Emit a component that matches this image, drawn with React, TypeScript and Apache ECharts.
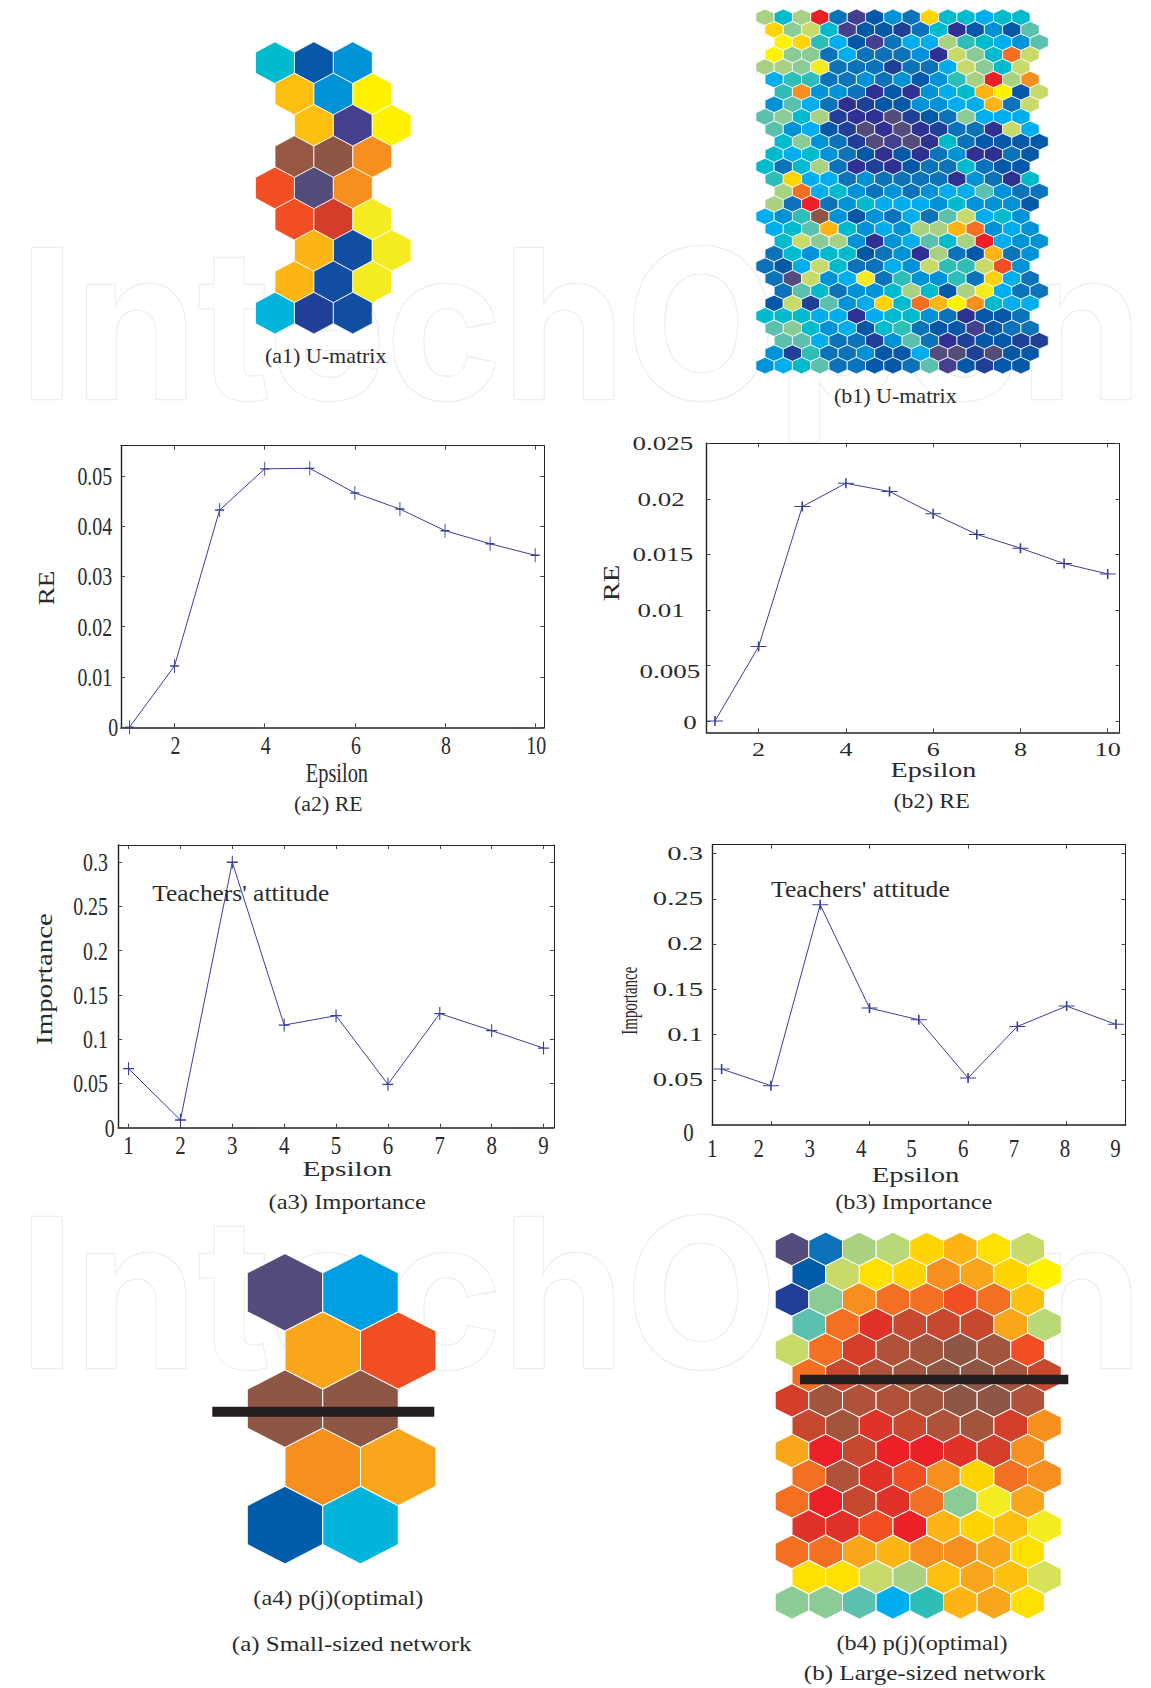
import React, { useEffect, useRef } from "react";
import * as echarts from "echarts";

// ---------- colour scale of the maps (codes used by the cell rows below)
const PALETTE: Record<string, string> = {
  p: "#443F8E", d: "#2E3192", n: "#1F4096", b: "#0557A8", x: "#005BAA", u: "#114EA1", m: "#0C72BA",
  c: "#0092D6", w: "#009FE3", s: "#00AEEF", v: "#00B4DC", t: "#00BACD", g: "#2FBDB8", h: "#5CC0AE",
  j: "#8ACB96", k: "#A8D182", K: "#B9D878", l: "#C8DA6A", L: "#D7E15A", y: "#F4EC21", Y: "#FFF200",
  i: "#FFE000", o: "#FFD400", P: "#FDC010", O: "#FDB515", a: "#FAA61B", f: "#F78F1E", r: "#F36F21",
  F: "#F14E23", R: "#EE2027", T: "#E1322A", D: "#D43D2A", C: "#C7482F", E: "#B0523A", e: "#A3543D",
  A: "#985743", B: "#8D5645", G: "#544C7A",
};

// ---------- hexagon maps
const a1Cells = ["t b c", "P c Y", "P p Y", "A B f", "F G f", "F D y", "O u y", "O u y", "v n u"];
const a1Shift = [0, 1, 2, 1, 0, 1, 2, 1, 0];

const b1Cells = [
  "k t k R m p b c m o t t s t t",
  "o j l t p b b n m t d b c b h",
  "Y o g s b p m s s k g t s c h",
  "Y j j m s m m m c d l j t r l",
  "k k j y m m m n m m s l j t l",
  "s g g m m c m c b c g k R k f",
  "g f c c m d b d c s t O Y b l",
  "c h s m d n b b c c s s O m l",
  "h j t k n d d G n b m j s s s",
  "h c s b n G d G d n m m d l s",
  "t j c m n G p G d t m b b b b",
  "t s t c m b d b d m c d d m b",
  "t m t k m d n d b m m t m b b",
  "g o s s m c m m m m d c m d t",
  "k r s t c m c m c s s h c m m",
  "k m R m c t s s s c t c c c b",
  "s c g B c b c m s m h l s t c",
  "s t h O t c s c k k O r c s c",
  "t l j k c d c s h t k R s c c",
  "m t c t t b m c d k m b O m c",
  "m b s l t m m s c l g g l F c",
  "m G l c s y m g c c g m o s m",
  "m h t m c c t k t b k y s m m",
  "b l n h c s o t r O Y f t s s",
  "t t t s s d s t t c m d b b m",
  "h j t c s b t g m b b p b m m",
  "h h s m m n c h m d n b b n n",
  "c n g m m c b b s G G n G b b",
  "c s t h m m b b m h p b n b b",
];
const b1Shift = [0, 1, 2, 1, 0, 1, 2, 1, 0, 1, 2, 1, 0, 1, 2, 1, 0, 1, 2, 1, 0, 1, 2, 1, 0, 1, 2, 1, 0];

const a4Cells = ["G w", "a F", "B B", "f a", "x v"];
const a4Shift = [0, 1, 0, 1, 0];

const b4Cells = [
  "G m k K o O i l",
  "x l i o f a o Y",
  "n j f r r F r P",
  "h r T C C C a K",
  "l r D E e B e F",
  "r C E e B B e C",
  "D e E E e B B E",
  "C e T C E e D f",
  "a R C R R T D f",
  "r E T F f o r f",
  "r R C T r j y a",
  "T T F R O o P y",
  "r r a O f f a i",
  "i i l k P a P L",
  "j j h s g O a i",
];
const b4Shift = [0, 1, 0, 1, 0, 1, 0, 1, 0, 1, 0, 1, 0, 1, 0];

// ---------- line charts
const a2Epsilon = [1, 2, 3, 4, 5, 6, 7, 8, 9, 10];
const a2RE = [0, 0.0122, 0.0432, 0.0514, 0.0515, 0.0466, 0.0434, 0.0391, 0.0365, 0.0342];
const a2XTicks = [2, 4, 6, 8, 10];
const a2YTicks = [0, 0.01, 0.02, 0.03, 0.04, 0.05];
const a2YLabels = ["0", "0.01", "0.02", "0.03", "0.04", "0.05"];

const b2Epsilon = [1, 2, 3, 4, 5, 6, 7, 8, 9, 10];
const b2RE = [0, 0.0067, 0.0193, 0.0214, 0.02066, 0.01865, 0.0168, 0.01556, 0.01417, 0.01324];
const b2XTicks = [2, 4, 6, 8, 10];
const b2YTicks = [0, 0.005, 0.01, 0.015, 0.02, 0.025];
const b2YLabels = ["0", "0.005", "0.01", "0.015", "0.02", "0.025"];

const a3Epsilon = [1, 2, 3, 4, 5, 6, 7, 8, 9];
const a3Importance = [0.0667, 0.0087, 0.3, 0.116, 0.1266, 0.049, 0.129, 0.1097, 0.09];
const a3XTicks = [1, 2, 3, 4, 5, 6, 7, 8, 9];
const a3YTicks = [0, 0.05, 0.1, 0.15, 0.2, 0.25, 0.3];
const a3YLabels = ["0", "0.05", "0.1", "0.15", "0.2", "0.25", "0.3"];

const b3Epsilon = [1, 2, 3, 4, 5, 6, 7, 8, 9];
const b3Importance = [0.0619, 0.0435, 0.2436, 0.1293, 0.1164, 0.052, 0.109, 0.1315, 0.1113];
const b3XTicks = [2, 4, 6, 8];
const b3XLabelValues = [1, 2, 3, 4, 5, 6, 7, 8, 9];
const b3YTicks = [0.05, 0.1, 0.15, 0.2, 0.25, 0.3];
const b3YLabels = ["0.05", "0.1", "0.15", "0.2", "0.25", "0.3"];

// ---------- layout and helpers
const SERIF = "Liberation Serif";
const INK = "#2b2b2b";
const LINE = "#3A3E9B";
const HEX = "path://M50,0 L100,25 L100,75 L50,100 L0,75 L0,25 Z";
const PLUS = "path://M0,45 H45 V0 H55 V45 H100 V55 H55 V100 H45 V55 H0 Z";

const grids: any[] = [];
const xAxes: any[] = [];
const yAxes: any[] = [];
const series: any[] = [];

function addHexMap(rows: string[], shift: number[], x0: number, y0: number, half: number, dy: number, border: number) {
  const grid = grids.length;
  const cols = rows[0].split(" ").length;
  const maxX = Math.max(...shift) + 2 * (cols - 1);
  grids.push({ left: x0, top: y0, width: maxX * half, height: (rows.length - 1) * dy });
  const xi = xAxes.length;
  const yi = yAxes.length;
  xAxes.push({ type: "value", gridIndex: grid, show: false, min: 0, max: maxX });
  yAxes.push({ type: "value", gridIndex: grid, show: false, min: 0, max: rows.length - 1, inverse: true });
  series.push({
    type: "scatter",
    xAxisIndex: xi,
    yAxisIndex: yi,
    symbol: HEX,
    symbolSize: [half * 2, (dy * 4) / 3],
    silent: true,
    itemStyle: { borderColor: "#ffffff", borderWidth: border, opacity: 1 },
    data: rows.flatMap((row, r) =>
      row.split(" ").map((code, c) => ({
        value: [shift[r] + 2 * c, r],
        itemStyle: { color: PALETTE[code] },
      })),
    ),
  });
}

type Lab = { text: string; at: number[]; dx?: number; dy?: number };
function labelSeries(xi: number, yi: number, labs: Lab[], size: number, sx: number, align: string) {
  series.push({
    type: "custom",
    xAxisIndex: xi,
    yAxisIndex: yi,
    silent: true,
    clip: false,
    encode: { x: 0, y: 1 },
    data: labs.map((l) => l.at),
    renderItem: (p: any, api: any) => {
      const l = labs[p.dataIndex];
      const pt = api.coord(l.at);
      return {
        type: "text",
        x: pt[0] + (l.dx || 0),
        y: pt[1] + (l.dy || 0),
        scaleX: sx,
        style: {
          text: l.text,
          fontFamily: SERIF,
          fontSize: size,
          fill: INK,
          align,
          verticalAlign: "middle",
          textAlign: align,
          textVerticalAlign: "middle",
        },
      };
    },
  });
}

function addLineChart(o: {
  box: number[]; xr: number[]; yr: number[]; xs: number[]; ys: number[];
  xTicks: number[]; yTicks: number[]; plus: number[];
}) {
  const [l, t, r, b] = o.box;
  const grid = grids.length;
  grids.push({ left: l, top: t, width: r - l, height: b - t });
  const xi = xAxes.length;
  const yi = yAxes.length;
  const common = (values: number[], width: number, show: boolean) => ({
    gridIndex: grid,
    type: "value",
    axisLine: { show: true, onZero: false, lineStyle: { color: "#222", width } },
    axisTick: { show, inside: true, length: 4, customValues: values, lineStyle: { color: "#444", width: 1 } },
    axisLabel: { show: false },
    splitLine: { show: false },
  });
  xAxes.push({ ...common(o.xTicks, 1.6, true), position: "bottom", min: o.xr[0], max: o.xr[1] });
  xAxes.push({ ...common(o.xTicks, 1, true), position: "top", min: o.xr[0], max: o.xr[1] });
  yAxes.push({ ...common(o.yTicks, 1.4, true), position: "left", min: o.yr[0], max: o.yr[1] });
  yAxes.push({ ...common(o.yTicks, 1, true), position: "right", min: o.yr[0], max: o.yr[1] });
  series.push({
    type: "line",
    xAxisIndex: xi,
    yAxisIndex: yi,
    silent: true,
    clip: false,
    symbol: PLUS,
    symbolSize: o.plus,
    lineStyle: { color: LINE, width: 1 },
    itemStyle: { color: LINE },
    data: o.xs.map((x, i) => [x, o.ys[i]]),
  });
  return { xi, yi };
}

const text = (t: string, x: number, y: number, size: number, sx = 1, rot = 0, fill = INK) => ({
  type: "text",
  x,
  y,
  scaleX: sx,
  rotation: rot,
  silent: true,
  z: 10,
  style: {
    text: t, fontFamily: SERIF, fontSize: size, fill,
    align: "center", verticalAlign: "middle", textAlign: "center", textVerticalAlign: "middle",
  },
});
const bar = (x: number, y: number, w: number, h: number) => ({
  type: "rect", silent: true, z: 10, shape: { x, y, width: w, height: h }, style: { fill: "#231F20" },
});
const watermark = (y: number) => ({
  type: "text", x: 581, y, scaleX: 0.95, silent: true, z: -1,
  style: {
    text: "IntechOpen", fontFamily: "Inter", fontWeight: "bold", fontSize: 208, fill: "#ffffff", stroke: "#eeeeee", lineWidth: 2.5,
    align: "center", verticalAlign: "middle", textAlign: "center", textVerticalAlign: "middle",
  },
});

addHexMap(a1Cells, a1Shift, 275, 62.7, 19.45, 31.3, 0.8);
addHexMap(b1Cells, b1Shift, 765, 17.3, 9.14, 12.44, 0.8);
addHexMap(a4Cells, a4Shift, 285, 1292.3, 37.75, 58.2, 1);
addHexMap(b4Cells, b4Shift, 792, 1249, 16.83, 25.24, 1);

// a2
{
  const xr = [0.81, 10.2];
  const yr = [0, 0.056];
  const ax = addLineChart({ box: [120.9, 445.7, 544.2, 727.3], xr, yr, xs: a2Epsilon, ys: a2RE, xTicks: a2XTicks, yTicks: a2YTicks, plus: [9, 14] });
  labelSeries(ax.xi, ax.yi, a2XTicks.map((v) => ({ text: String(v), at: [v, yr[0]], dy: 18, dx: 1 })), 26, 0.765, "center");
  labelSeries(ax.xi, ax.yi, a2YTicks.map((v, i) => ({ text: a2YLabels[i], at: [xr[0], v], dx: i === 0 ? -2.8 : -8.7 })), 26, 0.765, "right");
}
// b2
{
  const xr = [0.803, 10.27];
  const yr = [-0.00102, 0.025];
  const rightEdge = [-9.6, -6.2, -21.7, -13.1, -21.7, -13.1];
  const shiftY = [1.7, 6.7, 1, 1, 1, 1];
  const ax = addLineChart({ box: [706.4, 443.3, 1119.5, 732.3], xr, yr, xs: b2Epsilon, ys: b2RE, xTicks: b2XTicks, yTicks: b2YTicks, plus: [16, 10] });
  labelSeries(ax.xi, ax.yi, b2XTicks.map((v) => ({ text: String(v), at: [v, yr[0]], dy: 18 })), 18, 1.45, "center");
  labelSeries(ax.xi, ax.yi, b2YTicks.map((v, i) => ({ text: b2YLabels[i], at: [xr[0], v], dx: rightEdge[i], dy: shiftY[i] })), 18, 1.5, "right");
}
// a3
{
  const xr = [0.8, 9.2];
  const yr = [0, 0.3195];
  const ax = addLineChart({ box: [118.2, 845, 553.9, 1127.7], xr, yr, xs: a3Epsilon, ys: a3Importance, xTicks: a3XTicks, yTicks: a3YTicks, plus: [11, 13] });
  labelSeries(ax.xi, ax.yi, a3XTicks.map((v) => ({ text: String(v), at: [v, yr[0]], dy: 17 })), 26, 0.805, "center");
  labelSeries(ax.xi, ax.yi, a3YTicks.map((v, i) => ({ text: a3YLabels[i], at: [xr[0], v], dx: i === 0 ? -3.4 : -10.3 })), 26, 0.765, "right");
}
// b3
{
  const xr = [0.811, 9.196];
  const yr = [0, 0.31];
  const labelAt = [0.811, 1.755, 2.79, 3.83, 4.85, 5.9, 6.93, 7.965, 8.993];
  const ax = addLineChart({ box: [712.3, 844.7, 1125.6, 1125], xr, yr, xs: b3Epsilon, ys: b3Importance, xTicks: b3XTicks, yTicks: [0, ...b3YTicks], plus: [16, 10] });
  labelSeries(ax.xi, ax.yi, b3XLabelValues.map((v, i) => ({ text: String(v), at: [labelAt[i], yr[0]], dy: 23.3 })), 26, 0.805, "center");
  labelSeries(ax.xi, ax.yi, [{ text: "0", at: [xr[0], 0], dx: -18.6, dy: 7 }], 26, 0.805, "right");
  labelSeries(ax.xi, ax.yi, b3YTicks.map((v, i) => ({ text: b3YLabels[i], at: [xr[0], v], dx: -9.3 })), 18.5, 1.55, "right");
}

const captions = [
  watermark(323),
  watermark(1292),
  text("(a1) U-matrix", 325.7, 356.7, 20, 1.1),
  text("(b1) U-matrix", 895.3, 396.7, 20, 1.1),
  text("RE", 46.5, 588, 24, 1.13, Math.PI / 2),
  text("Epsilon", 336.9, 773, 27, 0.755),
  text("(a2) RE", 328.3, 804, 20, 1.095),
  text("RE", 611.4, 583, 23, 1.25, Math.PI / 2),
  text("Epsilon", 933.4, 770, 20, 1.405),
  text("(b2) RE", 931.7, 801, 21, 1.136),
  text("Importance", 44.1, 979, 23, 1.26, Math.PI / 2),
  text("Epsilon", 347.2, 1169, 20, 1.467),
  text("(a3) Importance", 347.2, 1201, 22, 1.116),
  text("Teachers' attitude", 240.8, 893, 23, 1.105),
  text("Importance", 628.9, 1000.7, 23, 0.65, Math.PI / 2),
  text("Epsilon", 915.5, 1175, 20, 1.436),
  text("(b3) Importance", 913.8, 1201, 22, 1.105),
  text("Teachers' attitude", 860.4, 889.3, 23, 1.116),
  text("(a4) p(j)(optimal)", 338.3, 1597, 22, 1.1),
  text("(a) Small-sized network", 351.7, 1643.5, 22, 1.135),
  text("(b4) p(j)(optimal)", 922, 1642, 22, 1.1),
  text("(b) Large-sized network", 924.7, 1673, 22, 1.14),
  bar(212.3, 1406.7, 222, 10),
  bar(800, 1374.7, 268.3, 9.6),
];

export default function App() {
  const ref = useRef<HTMLDivElement>(null);
  useEffect(() => {
    document.body.style.margin = "0";
    const chart = echarts.init(ref.current!, undefined, { renderer: "svg" });
    chart.setOption({
      animation: false,
      backgroundColor: "#ffffff",
      grid: grids,
      xAxis: xAxes,
      yAxis: yAxes,
      series,
      graphic: { elements: captions },
    });
    return () => chart.dispose();
  }, []);
  return <div ref={ref} style={{ width: 1151, height: 1688 }} />;
}
